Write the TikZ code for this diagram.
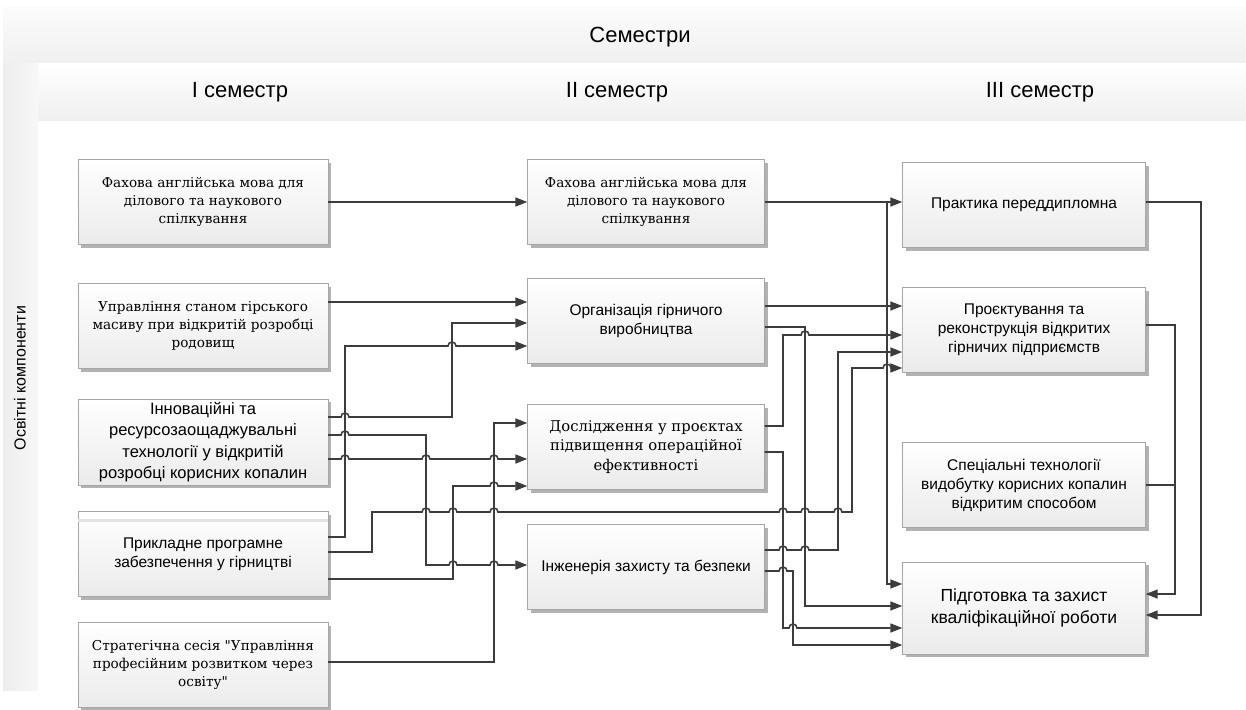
\documentclass[tikz,border=0pt]{standalone}
\usepackage{fontspec}
\setmainfont{DejaVu Serif}
\newfontfamily\serifFont{DejaVu Serif}
\newfontfamily\sansFont{Liberation Sans}
\usetikzlibrary{arrows.meta,shadows}
\definecolor{lineGray}{HTML}{3C3C3C}
\newcommand\lineJump[2]{-- (#1-4,#2) arc[start angle=180,end angle=0,radius=4pt]}
\begin{document}
\begin{tikzpicture}[x=1pt, y=-1pt,
    boxStyle/.style={draw=gray!70, top color=white, bottom color=gray!16, minimum height=85pt, align=center, inner sep=3pt,
      drop shadow={shadow xshift=3pt, shadow yshift=-3pt, fill=gray!60, opacity=1}},
    serifText/.style={font=\serifFont\fontsize{13.6}{18}\selectfont},
    sansText/.style={font=\sansFont\fontsize{15.5}{19}\selectfont},
    headStyle/.style={font=\sansFont\fontsize{22}{24}\selectfont},
    lineStyle/.style={draw=lineGray, line width=1.6pt},
    arrowStyle/.style={lineStyle, -{Triangle[length=12pt, width=9pt]}}]
    \useasboundingbox (0,0) rectangle (1246,709);

    \draw[gray!20] (3,7) -- (1246,7);
    \shade[top color=gray!3, bottom color=gray!12] (3,8) rectangle (1246,63);
    \shade[top color=white, bottom color=gray!12] (38,63) rectangle (1246,120);
    \shade[left color=gray!14, right color=gray!6] (3,63) rectangle (38,690);

    \node[headStyle](sem) at (640,37) {Семестри};
    \node[headStyle](sem1) at (240,92) {I семестр};
    \node[headStyle](sem2) at (617,92) {II семестр};
    \node[headStyle](sem3) at (1040,92) {III семестр};
    \node[font=\sansFont\fontsize{16}{18}\selectfont, rotate=90](comp) at (20,378) {Освітні компоненти};

    \node[boxStyle, serifText, minimum width=250pt](11) at (203,202) {Фахова англійська мова для\\ділового та наукового\\спілкування};
    \node[boxStyle, serifText, minimum width=250pt](12) at (203,326) {Управління станом гірського\\масиву при відкритій розробці\\родовищ};
    \node[boxStyle, sansText, font=\sansFont\fontsize{16.5}{21.5}\selectfont, minimum width=250pt](13) at (203,442) {Інноваційні та\\ресурсозаощаджувальні\\технології у відкритій\\розробці корисних копалин};
    \node[boxStyle, sansText, minimum width=250pt](14) at (203,554) {Прикладне програмне\\забезпечення у гірництві};
    \node[boxStyle, serifText, minimum width=250pt](15) at (203,665) {Стратегічна сесія "Управління\\професійним розвитком через\\освіту"};
    \fill[gray!22] ([yshift=-8pt]14.north west) rectangle ([yshift=-11pt]14.north east);

    \node[boxStyle, serifText, minimum width=237pt](21) at (646,202) {Фахова англійська мова для\\ділового та наукового\\спілкування};
    \node[boxStyle, sansText, minimum width=237pt](22) at (646,321) {Організація гірничого\\виробництва};
    \node[boxStyle, serifText, font=\serifFont\fontsize{14.8}{19.5}\selectfont, minimum width=237pt](23) at (646,447) {Дослідження у проєктах\\підвищення операційної\\ефективності};
    \node[boxStyle, sansText, minimum width=237pt](24) at (646,567) {Інженерія захисту та безпеки};

    \node[boxStyle, sansText, minimum width=243pt](31) at (1024,205) {Практика переддипломна};
    \node[boxStyle, sansText, minimum width=243pt](32) at (1024,330) {Проєктування та\\реконструкція відкритих\\гірничих підприємств};
    \node[boxStyle, sansText, minimum width=243pt](33) at (1024,485) {Спеціальні технології\\видобутку корисних копалин\\відкритим способом};
    \node[boxStyle, sansText, font=\sansFont\fontsize{17.5}{22}\selectfont, minimum width=243pt, minimum height=92pt](34) at (1024,608) {Підготовка та захист\\кваліфікаційної роботи};

    \draw[arrowStyle] (11.east) -- (21.west);
    \draw[arrowStyle] (12.east |- 0,302) -- (22.west |- 0,302);
    \draw[arrowStyle] (13.east |- 0,417) \lineJump{345}{417} -| (452,323) -- (22.west |- 0,323);
    \draw[arrowStyle] (14.east |- 0,537) -| (345,346) \lineJump{452}{346} -- (22.west |- 0,346);
    \draw[arrowStyle] (15.east |- 0,662) -| (494,423) -- (23.west |- 0,423);
    \draw[arrowStyle] (13.east |- 0,459) \lineJump{345}{459} \lineJump{426}{459} \lineJump{494}{459} -- (23.west |- 0,459);
    \draw[arrowStyle] (14.east |- 0,579) -| (453,486) \lineJump{494}{486} -- (23.west |- 0,486);
    \draw[arrowStyle] (13.east |- 0,435) \lineJump{345}{435} -| (426,565) \lineJump{453}{565} \lineJump{494}{565} -- (24.west |- 0,565);
    \draw[arrowStyle] (14.east |- 0,552) -| (372,512) \lineJump{426}{512} \lineJump{453}{512} \lineJump{494}{512}
        \lineJump{783}{512} \lineJump{805}{512} \lineJump{838}{512} -| (852,368) \lineJump{887}{368} -- (32.west |- 0,368);

    \draw[arrowStyle] (21.east) -- (31.west |- 21.east);
    \draw[arrowStyle] (21.east) -| (887,584) -- (34.west |- 0,584);
    \draw[arrowStyle] (22.east |- 0,306) -- (32.west |- 0,306);
    \draw[arrowStyle] (22.east |- 0,327) -| (805,606) -- (34.west |- 0,606);
    \draw[arrowStyle] (23.east |- 0,426) -| (783,335) \lineJump{805}{335} -- (32.west |- 0,335);
    \draw[arrowStyle] (23.east |- 0,452) -| (783,628) \lineJump{793}{628} -- (34.west |- 0,628);
    \draw[arrowStyle] (24.east |- 0,550) \lineJump{783}{550} \lineJump{805}{550} -| (838,352) -- (32.west |- 0,352);
    \draw[arrowStyle] (24.east |- 0,571) \lineJump{783}{571} -| (793,645) -- (34.west |- 0,645);

    \draw[arrowStyle] (31.east |- 0,202) -| (1201,615) -- (34.east |- 0,615);
    \draw[arrowStyle] (32.east |- 0,325) -| (1175,594) -- (34.east |- 0,594);
    \draw[lineStyle] (33.east) -- (1175,485);
\end{tikzpicture}
\end{document}
